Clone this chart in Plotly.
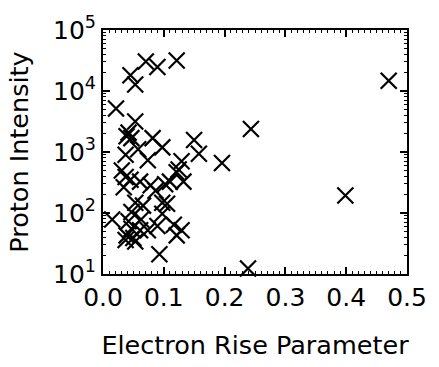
import numpy as np
import plotly.graph_objects as go

# Electron rise parameter vs. proton intensity for each event
rise_param = [
    0.0705, 0.0895, 0.1212, 0.0452, 0.0530, 0.0214,
    0.0530, 0.0420, 0.0467, 0.0388, 0.0816, 0.0975, 0.0578, 0.1498, 0.1577,
    0.0372, 0.0737, 0.1292, 0.2433, 0.1957, 0.4699, 0.3986, 0.2385,
    0.1212, 0.0309, 0.0372, 0.0452, 0.0610, 0.0784, 0.1022, 0.1323, 0.0341,
    0.0864, 0.1244, 0.1101,
    0.0531, 0.0658, 0.0468, 0.0975, 0.0975, 0.0151, 0.0420, 0.0626, 0.0895,
    0.1165, 0.1292, 0.1212, 0.0468, 0.0610, 0.0372, 0.0531, 0.0737, 0.0927,
    0.0499, 0.0388, 0.1054,
]
proton_intensity = [
    30500, 24800, 31600, 18100, 12800, 5150,
    3160, 2080, 1690, 1810, 1690, 1190, 1110, 1570, 933,
    900, 731, 705, 2390, 658, 14700, 194, 12.3,
    464, 498, 390, 351, 327, 285, 295, 327, 265,
    231, 515, 327,
    147, 132, 104, 147, 97, 78, 73, 78, 61,
    64, 52, 43, 55, 52, 36, 34, 52, 21,
    39, 43, 142,
]

y_tick_vals = [10, 100, 1000, 10000, 100000]
y_tick_text = ["10<sup>1</sup>", "10<sup>2</sup>", "10<sup>3</sup>",
               "10<sup>4</sup>", "10<sup>5</sup>"]
x_tick_vals = [0.0, 0.1, 0.2, 0.3, 0.4, 0.5]
x_tick_text = ["0.0", "0.1", "0.2", "0.3", "0.4", "0.5"]

# minor tick positions: every 0.01 on x, 2..9 within each decade on y
x_minor = [round(v, 2) for v in np.arange(0.0, 0.501, 0.01)]
y_minor = [m * 10 ** d for d in range(1, 5) for m in range(2, 10)]

FONT = "DejaVu Sans, Verdana, sans-serif"

fig = go.Figure(
    go.Scatter(
        x=rise_param,
        y=proton_intensity,
        mode="markers",
        cliponaxis=False,
        marker=dict(symbol="x-thin", size=16, color="black",
                    line=dict(width=2.2, color="black")),
    )
)

axis_common = dict(
    showline=True, linecolor="black", linewidth=2, mirror="ticks",
    ticks="inside", ticklen=7, tickwidth=1.5, tickcolor="black",
    showgrid=False, zeroline=False, ticklabeloverflow="allow",
    tickfont=dict(family=FONT, size=25, color="black"),
)

fig.update_xaxes(
    range=[0, 0.5], tickmode="array", tickvals=x_tick_vals, ticktext=x_tick_text,
    minor=dict(tickmode="array", tickvals=x_minor, ticks="inside", ticklen=3,
               tickwidth=1, tickcolor="black", showgrid=False),
    title=dict(text="Electron Rise Parameter",
               font=dict(family=FONT, size=25.5, color="black"), standoff=25),
    **axis_common,
)
fig.update_yaxes(
    type="log", range=[0.99999, 5.00001], tickmode="array",
    tickvals=y_tick_vals, ticktext=y_tick_text,
    minor=dict(tickmode="array", tickvals=y_minor, ticks="inside", ticklen=3,
               tickwidth=1, tickcolor="black", showgrid=False),
    title=dict(text="Proton Intensity",
               font=dict(family=FONT, size=25.5, color="black"), standoff=17),
    **axis_common,
)

fig.update_layout(
    width=439, height=367,
    margin=dict(l=103, r=20, t=13, b=90),
    paper_bgcolor="white", plot_bgcolor="white",
    showlegend=False,
)

fig.write_html("out.html")
